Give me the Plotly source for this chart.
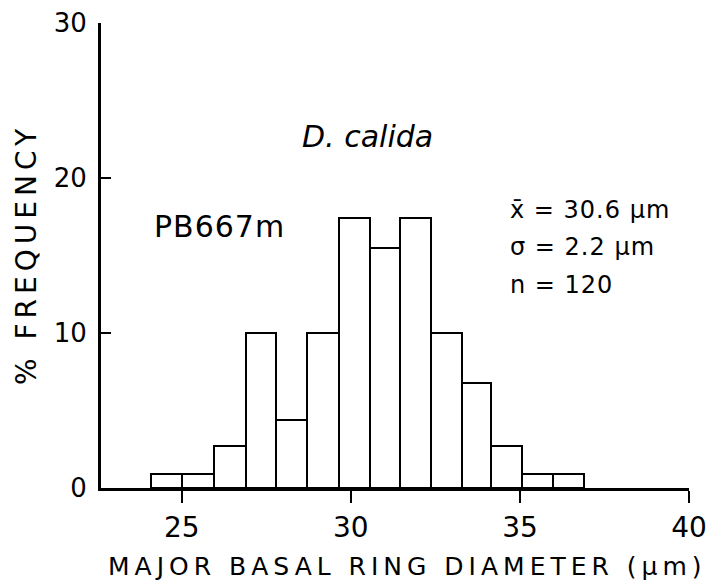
import plotly.graph_objects as go

bin_edges = [24.08, 25.0, 25.95, 26.89, 27.78, 28.70, 29.65, 30.57,
             31.46, 32.37, 33.29, 34.15, 35.06, 35.98, 36.90]
pct_freq = [0.9, 0.9, 2.7, 10.0, 4.4, 10.0, 17.4, 15.5, 17.4, 10.0, 6.8, 2.7, 0.9, 0.9]

x_ticks = [25, 30, 35, 40]
y_ticks = [0, 10, 20, 30]

centers = [(a + b) / 2 for a, b in zip(bin_edges[:-1], bin_edges[1:])]
widths = [b - a for a, b in zip(bin_edges[:-1], bin_edges[1:])]

FONT = "DejaVu Sans"
plot_l, plot_r, plot_t, plot_b = 101, 689, 23, 488

fig = go.Figure()
fig.add_trace(go.Bar(
    x=centers, y=pct_freq, width=widths,
    marker=dict(color="white", line=dict(color="black", width=2)),
    showlegend=False, hoverinfo="skip",
))

fig.update_layout(
    width=712, height=588,
    margin=dict(l=plot_l, r=712 - plot_r, t=plot_t, b=588 - plot_b),
    paper_bgcolor="white", plot_bgcolor="white",
    font=dict(family=FONT, size=27, color="black"),
    bargap=0,
    xaxis=dict(
        range=[22.61, 40], tickvals=x_ticks, ticktext=[str(v) for v in x_ticks],
        showline=True, linewidth=3, linecolor="black",
        ticks="outside", ticklen=12, tickwidth=2, tickcolor="black",
        tickfont=dict(size=28), automargin=False,
        showgrid=False, zeroline=False,
    ),
    yaxis=dict(
        range=[0, 30], tickvals=y_ticks, ticktext=[str(v) for v in y_ticks],
        showline=True, linewidth=3, linecolor="black",
        ticks="inside", ticklen=10, tickwidth=2, tickcolor="black",
        tickfont=dict(size=26), automargin=False,
        showgrid=False, zeroline=False, ticklabelstandoff=6,
    ),
)

# Axis titles (placed from pixel positions of the reference)
fig.add_annotation(x=(407 - plot_l) / (plot_r - plot_l), y=(plot_b - 566) / (plot_b - plot_t),
                   xref="paper", yref="paper",
                   text='<span style="letter-spacing:5px">MAJOR BASAL RING DIAMETER (μm)</span>',
                   showarrow=False, font=dict(size=25), xanchor="center", yanchor="middle")
fig.add_annotation(x=(26 - plot_l) / (plot_r - plot_l), y=(plot_b - 255) / (plot_b - plot_t),
                   xref="paper", yref="paper",
                   text='<span style="letter-spacing:5px">% FREQUENCY</span>',
                   showarrow=False, font=dict(size=28), textangle=-90,
                   xanchor="center", yanchor="middle")

fig.add_annotation(x=30.48, y=22.7, xref="x", yref="y", text="<i>D. calida</i>",
                   showarrow=False, font=dict(size=30), xanchor="center", yanchor="middle")
fig.add_annotation(x=24.11, y=16.87, xref="x", yref="y",
                   text='<span style="letter-spacing:1px">PB667m</span>',
                   showarrow=False, font=dict(size=30), xanchor="left", yanchor="middle")
stats = ["x̄ = 30.6 μm", "σ = 2.2 μm", "n = 120"]
stats_y = [17.94, 15.55, 13.1]
for s, yy in zip(stats, stats_y):
    fig.add_annotation(x=34.65, y=yy, xref="x", yref="y",
                       text='<span style="letter-spacing:1px">' + s + '</span>',
                       showarrow=False, font=dict(size=24), align="left",
                       xanchor="left", yanchor="middle")

fig.write_html("out.html")
